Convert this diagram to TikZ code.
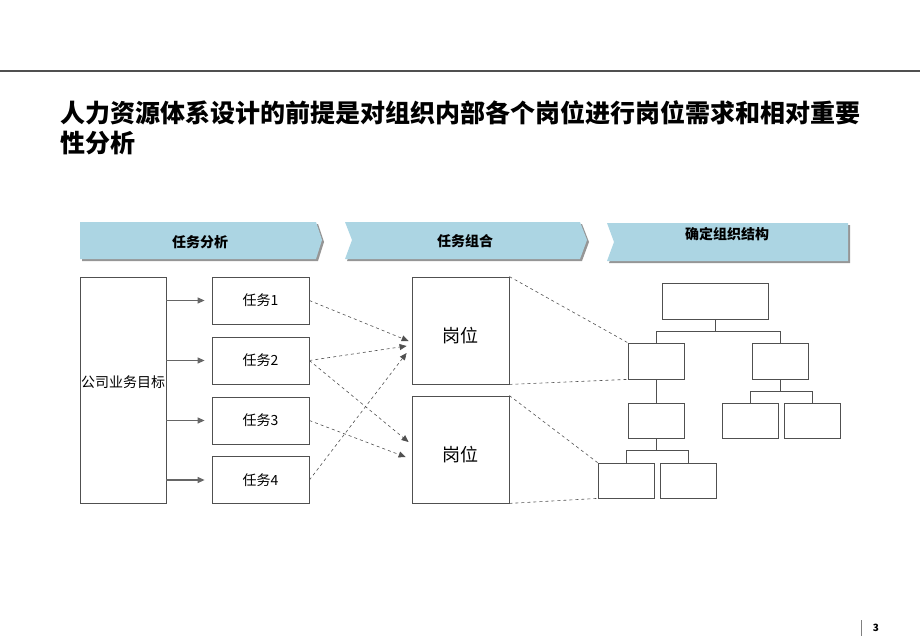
\documentclass[tikz,border=0pt]{standalone}
\usepackage{fontspec}
\setmainfont{Noto Sans CJK SC}
\usetikzlibrary{arrows.meta,positioning,shapes}
\definecolor{bannerblue}{RGB}{172,213,227}
\definecolor{bannershade}{RGB}{150,150,150}
\definecolor{linegray}{RGB}{80,80,80}

\begin{document}
\begin{tikzpicture}[x=1pt,y=-1pt,
  box/.style={draw=linegray,line width=.8pt,rectangle,inner sep=0pt},
  task/.style={box,minimum width=97pt,minimum height=47pt,font=\fontsize{14}{16}\selectfont},
  post/.style={box,minimum width=97pt,minimum height=107pt,text height=26pt,font=\fontsize{18}{20}\selectfont},
  org/.style={box,minimum width=56pt,minimum height=35pt},
  feed/.style={->,>={Triangle[length=7pt,width=6pt]},draw=gray!80!black,line width=1.2pt},
  link/.style={->,>={Triangle[length=7pt,width=6pt]},dashed,draw=linegray,line width=.6pt},
  zoomline/.style={dashed,draw=linegray,line width=.6pt},
  tree/.style={draw=linegray,line width=.8pt},
  banner/.style={font=\fontsize{14}{16}\selectfont\bfseries}]
\useasboundingbox (0,0) rectangle (920,637);
\draw[linegray,line width=1.5pt] (0,71) -- (920,71);
\node[anchor=north west,inner sep=0pt,align=left,font=\fontsize{25}{30}\selectfont\bfseries] (title) at (60,100)
  {人力资源体系设计的前提是对组织内部各个岗位进行岗位需求和相对重要\\性分析};
% banners
\fill[bannershade] (82,224) -- (318,224) -- (324,242) -- (318,261) -- (82,261) -- cycle;
\fill[bannerblue] (80,222) -- (316,222) -- (322,240) -- (316,259) -- (80,259) -- cycle;
\fill[bannershade] (347,224) -- (582,224) -- (589,242) -- (582,261) -- (347,261) -- (354,242) -- cycle;
\fill[bannerblue] (345,222) -- (580,222) -- (587,240) -- (580,259) -- (345,259) -- (352,240) -- cycle;
\fill[bannershade] (609,225) -- (850,225) -- (850,263) -- (609,263) -- (616,244) -- cycle;
\fill[bannerblue] (607,223) -- (848,223) -- (848,261) -- (607,261) -- (614,242) -- cycle;
\node[banner] (b1) at (200,242) {任务分析};
\node[banner] (b2) at (465,241) {任务组合};
\node[banner] (b3) at (727,234) {确定组织结构};
% tasks
\node[box,minimum width=86pt,minimum height=226pt,text depth=16pt,font=\fontsize{14}{16}\selectfont] (goal) at (123,390) {公司业务目标};
\node[task] (t1) at (260.5,300.5) {任务1};
\node[task] (t2) at (260.5,360.5) {任务2};
\node[task] (t3) at (260.5,420.5) {任务3};
\node[task] (t4) at (260.5,480) {任务4};
\foreach \t in {t1,t2,t3,t4}
  \draw[feed] (goal.east |- \t) -- ([xshift=-7pt]\t.west);
\node[post] (p1) at (460.5,330.5) {岗位};
\node[post] (p2) at (460.5,449.5) {岗位};
\draw[link] (t1.east) -- ([shift={(-3,10.5)}]p1.west);
\draw[link] (t2.east) -- ([shift={(-5,15.5)}]p1.west);
\draw[link] (t4.east) -- ([shift={(-5,22.5)}]p1.west);
\draw[link] (t2.east) -- ([shift={(-3,-7.5)}]p2.west);
\draw[link] (t3.east) -- ([shift={(-6,7.5)}]p2.west);
% org chart
\node[org,minimum width=106pt,minimum height=36pt] (top) at (715,301) {};
\node[org,minimum height=36pt] (l2a) at (656,361) {};
\node[org,minimum height=36pt] (l2b) at (780.5,361) {};
\node[org] (l3a) at (656,420.5) {};
\node[org] (l3b) at (750,420.5) {};
\node[org] (l3c) at (812,420.5) {};
\node[org] (l4a) at (626,480.5) {};
\node[org] (l4b) at (688,480.5) {};
\draw[tree] (top.south) -- ++(0,12) -| (l2a.north);
\draw[tree] (top.south) -- ++(0,12) -| (l2b.north);
\draw[tree] (l2a) -- (l3a);
\draw[tree] (l2b.south) -- ++(0,12) -| (l3b.north);
\draw[tree] (l2b.south) -- ++(0,12) -| (l3c.north);
\draw[tree] (l3a.south) -- ++(0,12) -| (l4a.north);
\draw[tree] (l3a.south) -- ++(0,12) -| (l4b.north);
\draw[zoomline] (p1.north east) -- (l2a.north west);
\draw[zoomline] (p1.south east) -- (l2a.south west);
\draw[zoomline] (p2.north east) -- (l4a.north west);
\draw[zoomline] (p2.south east) -- (l4a.south west);
% page number
\draw[gray,line width=1pt] (861,620) -- (861,636);
\node[font=\fontsize{10}{12}\selectfont\bfseries] (pg) at (876,628) {3};
\end{tikzpicture}
\end{document}
